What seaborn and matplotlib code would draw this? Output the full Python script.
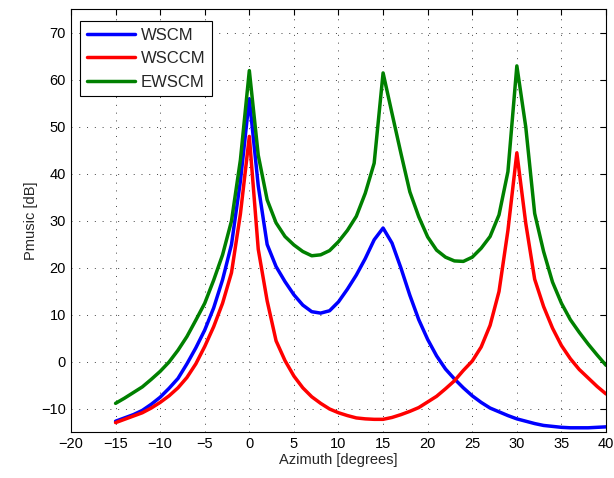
import numpy as np
import pandas as pd
import matplotlib
matplotlib.use("Agg")
import matplotlib.pyplot as plt
import seaborn as sns

# ---------- data (1 degree steps) ---------- #
azimuth = list(range(-15, 41))

wscm = [-12.6, -11.9, -11.2, -10.3, -9.0, -7.5, -5.6, -3.5, -0.4, 3.0,
        6.8, 11.5, 17.5, 25.0, 38.5, 56.0, 37.5, 25.0, 20.3, 17.1,
        14.3, 12.1, 10.7, 10.4, 10.9, 12.8, 15.5, 18.5, 22.0, 26.0,
        28.5, 25.3, 20.0, 14.2, 9.0, 4.8, 1.3, -1.5, -3.6, -5.5,
        -7.2, -8.6, -9.8, -10.6, -11.4, -12.1, -12.6, -13.1, -13.5, -13.7,
        -13.9, -14.0, -14.0, -14.0, -13.9, -13.8]

wsccm = [-12.9, -12.2, -11.5, -10.8, -9.8, -8.6, -7.2, -5.5, -3.3, -0.4,
         3.3, 7.5, 12.5, 19.0, 31.5, 48.0, 24.0, 13.0, 4.5, 0.3,
         -3.0, -5.5, -7.4, -8.8, -10.0, -10.8, -11.4, -11.9, -12.1, -12.2,
         -12.2, -11.8, -11.2, -10.5, -9.7, -8.5, -7.3, -5.7, -4.0, -1.8,
         0.2, 3.2, 7.8, 15.0, 28.0, 44.5, 29.5, 17.6, 11.8, 7.2,
         3.5, 0.7, -1.6, -3.4, -5.2, -6.8]

ewscm = [-8.8, -7.7, -6.5, -5.3, -3.7, -2.0, 0.0, 2.5, 5.4, 8.9,
         12.5, 17.4, 22.8, 30.0, 43.0, 62.0, 44.0, 34.5, 29.6, 26.7,
         24.9, 23.5, 22.6, 22.8, 23.7, 25.6, 28.0, 31.0, 35.9, 42.3,
         61.5, 52.9, 44.4, 36.2, 30.9, 26.6, 23.8, 22.3, 21.5, 21.4,
         22.3, 24.2, 26.7, 31.3, 40.5, 63.0, 50.0, 31.6, 23.5, 17.0,
         12.5, 9.0, 6.3, 3.8, 1.5, -0.7]

series_names = ["WSCM", "WSCCM", "EWSCM"]
series_colors = ["#0000ff", "#ff0000", "#008000"]

xticks = list(range(-20, 41, 5))
yticks = list(range(-10, 71, 10))

df = pd.DataFrame({
    "Azimuth": azimuth * 3,
    "Pmusic": wscm + wsccm + ewscm,
    "method": [n for n in series_names for _ in azimuth],
})

# ---------- plot ---------- #
sns.set_style("white")
plt.rcParams["font.family"] = ["Liberation Sans", "DejaVu Sans"]

fig = plt.figure(figsize=(6.14, 4.78), dpi=100)
ax = fig.add_axes([0.1156, 0.0952, 0.8714, 0.885])

sns.lineplot(data=df, x="Azimuth", y="Pmusic", hue="method",
             hue_order=series_names, palette=series_colors,
             linewidth=2.5, ax=ax)

ax.set_xlim(-20, 40)
ax.set_ylim(-15, 75)
ax.set_xticks(xticks)
ax.set_yticks(yticks)
ax.set_xticklabels([str(t).replace("-", "\u2212") for t in xticks])
ax.set_yticklabels([str(t).replace("-", "\u2212") for t in yticks])
ax.tick_params(direction="in", length=4, width=0.8, top=True, right=True,
               labelsize=10.5, colors="black")
ax.grid(True, linestyle=(0, (1, 7)), color="black", linewidth=0.7, alpha=0.75)
for s in ax.spines.values():
    s.set_color("black")
    s.set_linewidth(0.8)

ax.set_xlabel("Azimuth [degrees]", fontsize=10.5, labelpad=1)
ax.set_ylabel("Pmusic [dB]", fontsize=10.5, labelpad=2)

leg = ax.legend(loc="upper left", bbox_to_anchor=(0.017, 0.972),
                fontsize=12, frameon=True, fancybox=False,
                edgecolor="black", handlelength=2.9, borderpad=0.4,
                labelspacing=0.5, borderaxespad=0, handletextpad=0.35)
leg.get_frame().set_linewidth(0.8)
leg.get_frame().set_alpha(1)

fig.savefig("out.png", dpi=100)
